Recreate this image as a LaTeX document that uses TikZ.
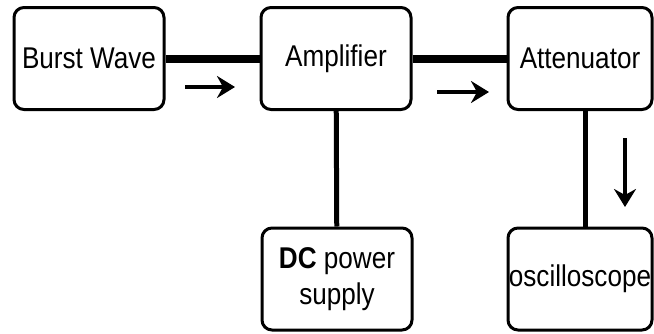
\documentclass[tikz,border=0pt]{standalone}
\usepackage{fontspec}
\setmainfont[FakeStretch=0.87]{Liberation Sans}
\usetikzlibrary{arrows.meta,positioning}

\begin{document}
\begin{tikzpicture}[x=0.5pt, y=-0.5pt,
    blk/.style={draw, line width=1.5pt, rounded corners=5pt, minimum width=#1, minimum height=51pt, inner sep=0pt, align=center, font=\fontsize{15}{18}\selectfont},
    blk/.default=75pt,
    bus/.style={line width=4pt},
    tap/.style={line width=2.5pt},
    flow/.style={line width=2pt, -{Stealth[length=9pt,width=11pt,inset=3pt]}},
]
\useasboundingbox (0,0) rectangle (654,333);

\node[blk] (burst) at (89,58.5) {Burst Wave};
\node[blk] (amp) at (336,58.5) {Amplifier};
\node[blk=72pt] (att) at (580,58.5) {Attenuator};
\node[blk] (dc) at (337,279) {\textbf{DC} power\\supply};
\node[blk=72pt] (osc) at (580,279) {oscilloscope};

\draw[bus] (burst) -- (amp);
\draw[bus] (amp) -- (att);
\draw[tap] (amp) -- (dc);
\draw[tap] ([xshift=2.5pt]att.south) -- ([xshift=2.5pt]osc.north);

% direction marks
\coordinate (m1a) at (185,87);
\coordinate (m1b) at (235,87);
\coordinate (m2a) at (437,92);
\coordinate (m2b) at (489,92);
\coordinate (m3a) at (625,138);
\coordinate (m3b) at (625,207);
\draw[flow] (m1a) -- (m1b);
\draw[flow] (m2a) -- (m2b);
\draw[flow] (m3a) -- (m3b);
\end{tikzpicture}
\end{document}
